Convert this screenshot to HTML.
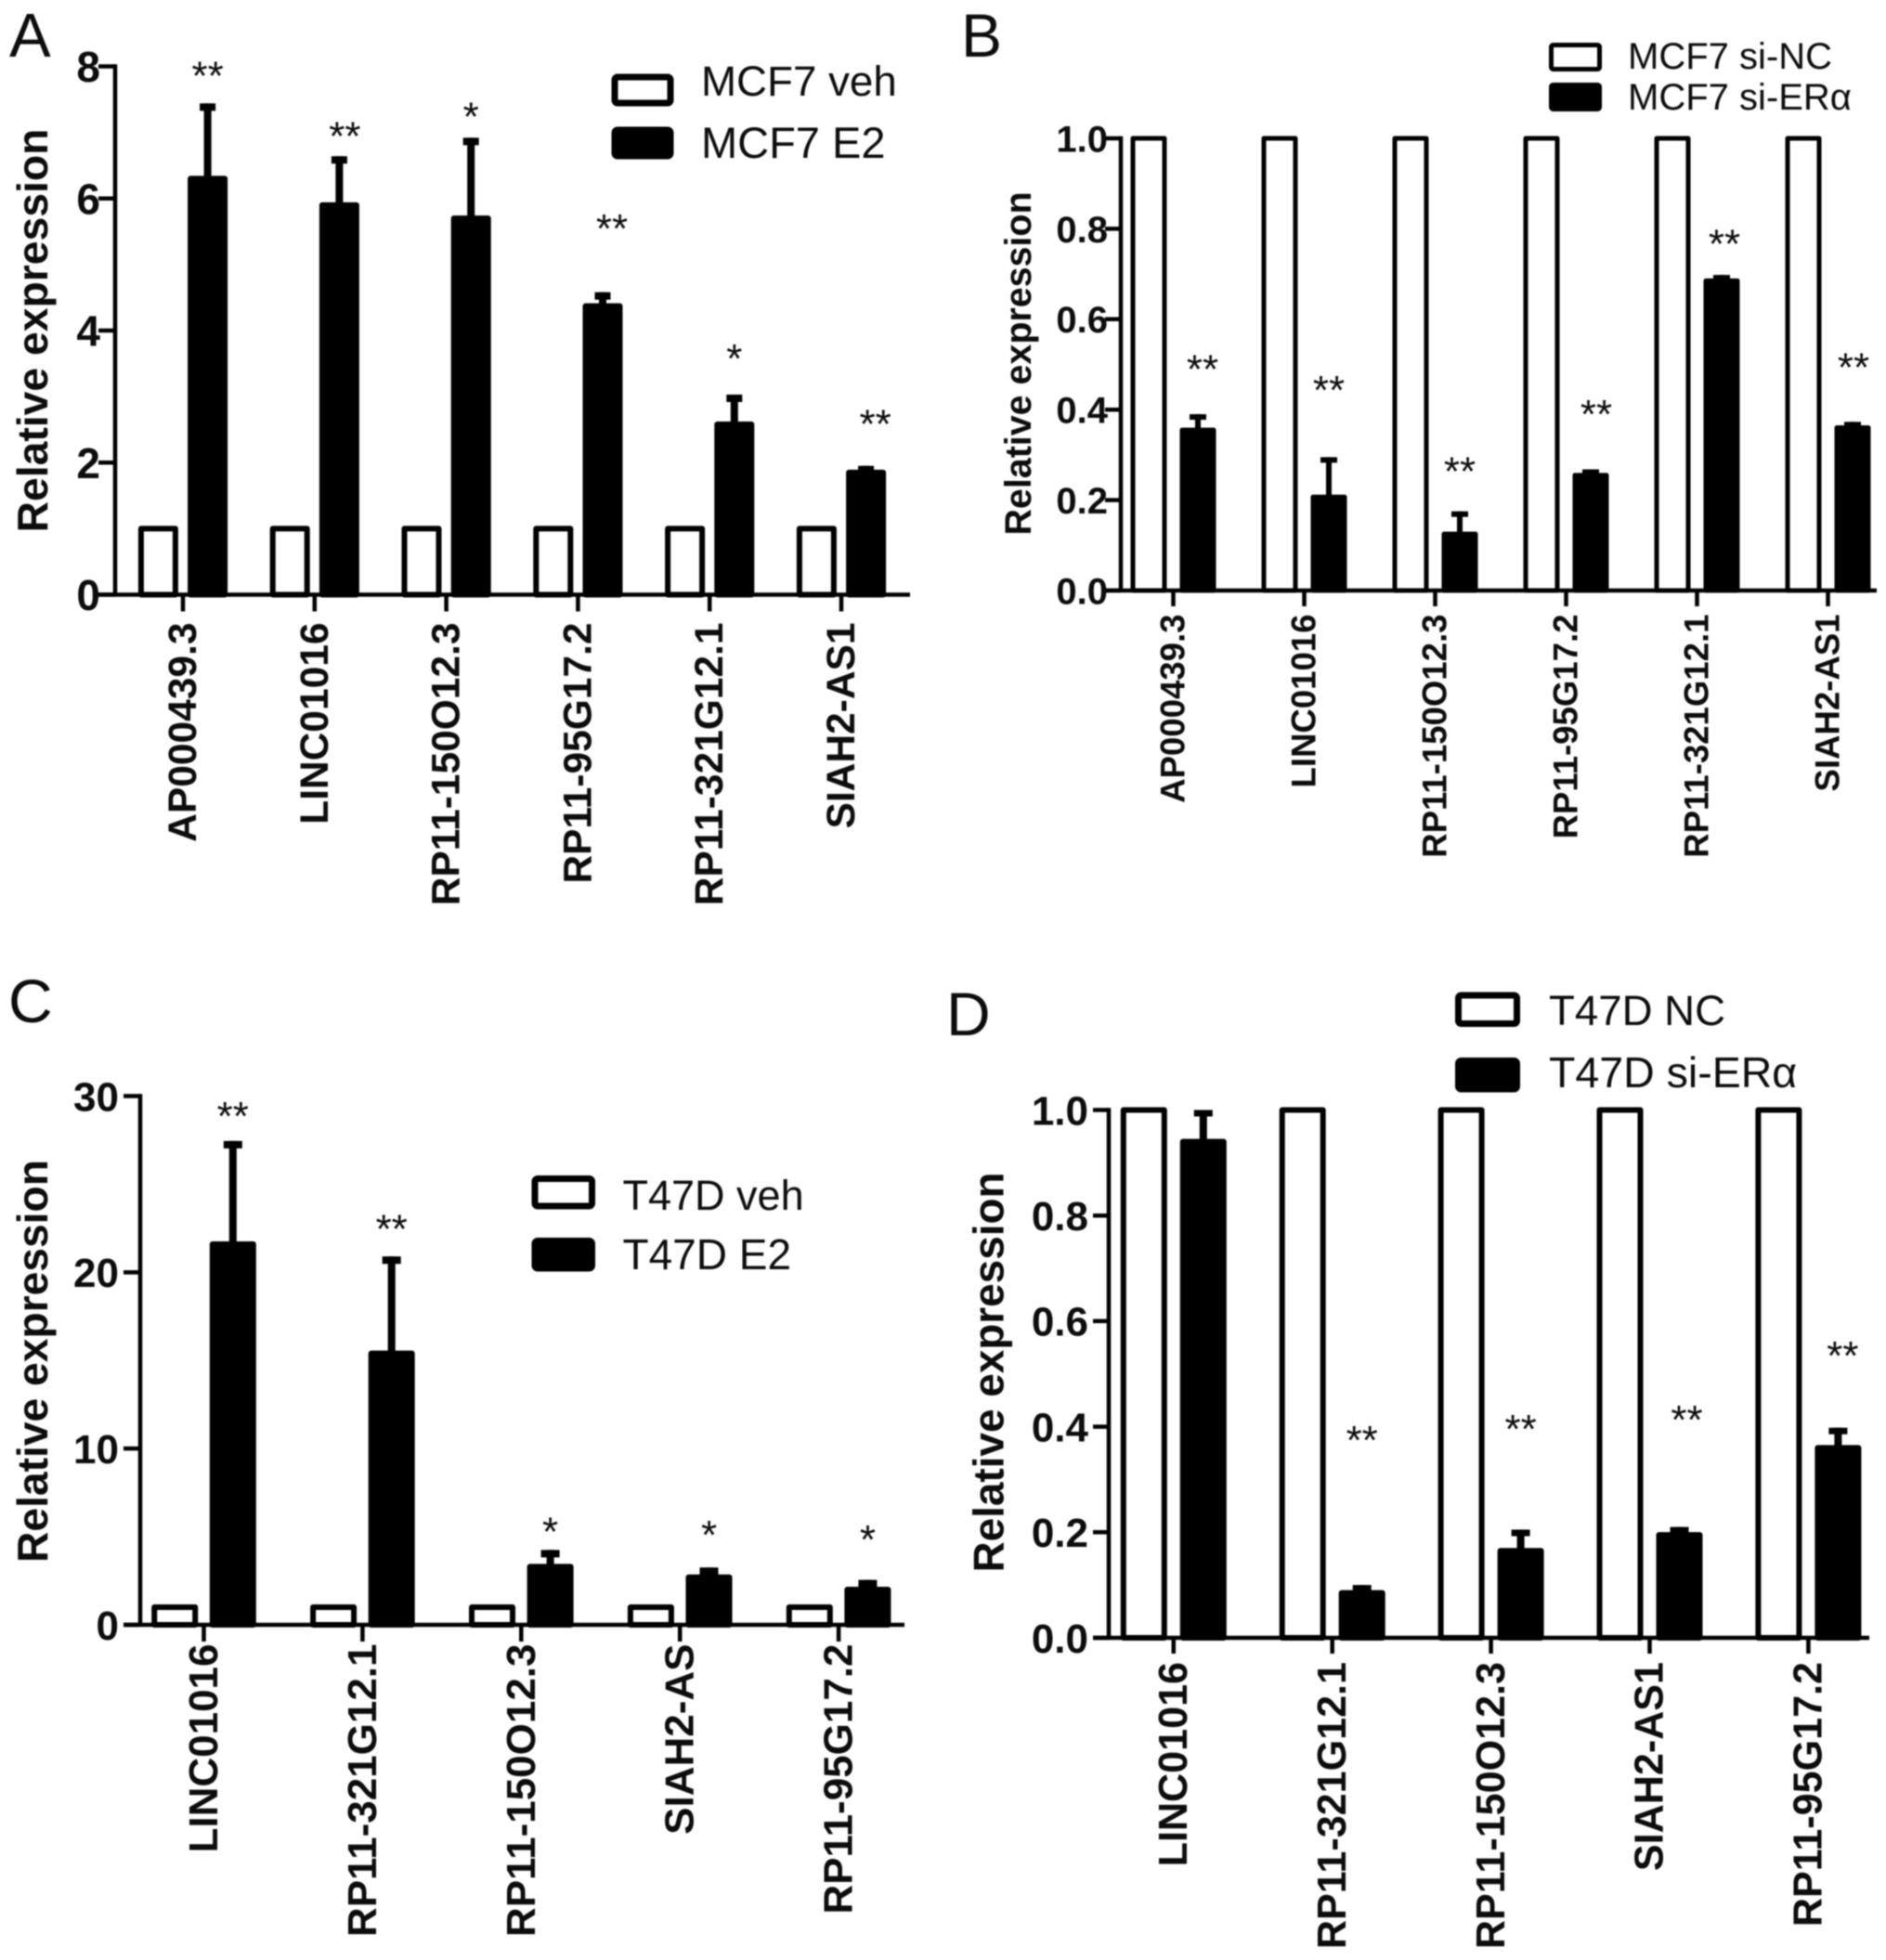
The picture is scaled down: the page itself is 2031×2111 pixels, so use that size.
<!DOCTYPE html>
<html lang="en">
<head>
<meta charset="utf-8">
<title>Relative expression panels</title>
<style>
html,body{margin:0;padding:0;background:#fff;}
svg{display:block;filter:blur(0.7px);}
text{font-family:"Liberation Sans",Arial,sans-serif;fill:#0c0c0c;}
</style>
</head>
<body>
<svg id="figure" width="2031" height="2111" viewBox="0 0 2031 2111" xmlns="http://www.w3.org/2000/svg">
  <rect x="0" y="0" width="2031" height="2111" fill="#fff"/>

  <text x="10" y="61" font-size="67">A</text>
  <text x="1035" y="61" font-size="66">B</text>
  <text x="9" y="1101" font-size="66">C</text>
  <text x="1019" y="1115" font-size="66">D</text>

  <g>
    <rect x="662" y="83" width="60" height="28" rx="3" fill="#fff" stroke="#000" stroke-width="7"/>
    <text x="755" y="103" font-size="45.7">MCF7 veh</text>
    <rect x="662" y="140" width="60" height="28" rx="3" fill="#000" stroke="#000" stroke-width="7"/>
    <text x="755" y="170" font-size="47">MCF7 E2</text>
  </g>
  <g>
    <rect x="1670.5" y="48.5" width="52" height="26" rx="2" fill="#fff" stroke="#000" stroke-width="5"/>
    <text x="1753" y="74" font-size="40">MCF7 si-NC</text>
    <rect x="1670.5" y="91.5" width="52" height="26" rx="2" fill="#000" stroke="#000" stroke-width="5"/>
    <text x="1753" y="118" font-size="40">MCF7 si-ERα</text>
  </g>
  <g>
    <rect x="576" y="1269.5" width="61.5" height="29.5" rx="3" fill="#fff" stroke="#000" stroke-width="7"/>
    <text x="670.5" y="1303" font-size="45">T47D veh</text>
    <rect x="576" y="1336.5" width="61.5" height="29.5" rx="3" fill="#000" stroke="#000" stroke-width="7"/>
    <text x="670.5" y="1367" font-size="46">T47D E2</text>
  </g>
  <g>
    <rect x="1570.5" y="1072" width="63" height="30.5" rx="3" fill="#fff" stroke="#000" stroke-width="7"/>
    <text x="1668" y="1104" font-size="45.6">T47D NC</text>
    <rect x="1570.5" y="1142.5" width="63" height="30.5" rx="3" fill="#000" stroke="#000" stroke-width="7"/>
    <text x="1668" y="1171" font-size="46.5">T47D si-ERα</text>
  </g>
</svg>

<script>
/* Panel A data */
const aCategories = ["AP000439.3","LINC01016","RP11-150O12.3","RP11-95G17.2","RP11-321G12.1","SIAH2-AS1"];
const aControl = [1,1,1,1,1,1];
const aTreated = [6.3,5.9,5.7,4.37,2.58,1.85];
const aErrorTop = [7.44,6.64,6.92,4.58,3.03,1.95];
const aStars = ["**","**","*","**","*","**"];
const aStarLevel = [7.95,7.04,7.33,5.64,3.67,2.68];
const aTickLabels = ["0","2","4","6","8"];

/* Panel B data */
const bCategories = ["AP000439.3","LINC01016","RP11-150O12.3","RP11-95G17.2","RP11-321G12.1","SIAH2-AS1"];
const bControl = [1,1,1,1,1,1];
const bTreated = [0.355,0.207,0.125,0.255,0.685,0.36];
const bErrorTop = [0.39,0.295,0.175,0.268,0.698,0.373];
const bStars = ["**","**","**","**","**","**"];
const bStarLevel = [0.503,0.457,0.277,0.404,0.78,0.507];
const bTickLabels = ["0.0","0.2","0.4","0.6","0.8","1.0"];

/* Panel C data */
const cCategories = ["LINC01016","RP11-321G12.1","RP11-150O12.3","SIAH2-AS","RP11-95G17.2"];
const cControl = [1,1,1,1,1];
const cTreated = [21.6,15.4,3.3,2.7,2.0];
const cErrorTop = [27.45,20.9,4.25,3.25,2.55];
const cStars = ["**","**","*","*","*"];
const cStarLevel = [29.2,22.8,5.63,5.45,5.2];
const cTickLabels = ["0","10","20","30"];

/* Panel D data */
const dCategories = ["LINC01016","RP11-321G12.1","RP11-150O12.3","SIAH2-AS1","RP11-95G17.2"];
const dControl = [1,1,1,1,1];
const dTreated = [0.94,0.085,0.165,0.195,0.36];
const dErrorTop = [1.0,0.1,0.205,0.21,0.398];
const dStars = ["","**","**","**","**"];
const dStarLevel = [0,0.386,0.407,0.425,0.546];
const dTickLabels = ["0.0","0.2","0.4","0.6","0.8","1.0"];

const SVG_NS = "http://www.w3.org/2000/svg";
const figure = document.getElementById("figure");

function mk(parent, tag, attrs, content) {
  const el = document.createElementNS(SVG_NS, tag);
  for (const key in attrs) el.setAttribute(key, attrs[key]);
  if (content !== undefined) el.textContent = content;
  parent.appendChild(el);
  return el;
}

function drawPanel(p) {
  const yScale = function (v) { return p.y0 - (v / p.maxValue) * (p.y0 - p.yTop); };
  const groupX = function (i) { return p.firstGroup + i * p.groupStep; };

  const group = mk(figure, "g", {});
  
  

  const yTitle = mk(group, "text", {
    transform: "translate(" + p.titleX + "," + p.titleY + ") rotate(-90)",
    "text-anchor": "middle", "font-weight": "bold", "font-size": p.titleSize
  }, "Relative expression");
  
  

  p.categories.forEach(function (name, i) {
    const ctrlX = groupX(i) - p.barOffset;
    const ctrlTop = yScale(p.control[i]);
    const ctrl = mk(group, "rect", {
      x: ctrlX - p.barWidth / 2, y: ctrlTop, width: p.barWidth, height: p.y0 - ctrlTop,
      fill: "#fff", stroke: "#000", "stroke-width": p.stroke, "stroke-linejoin": "round"
    });
    
    

    const trtX = groupX(i) + p.barOffset;
    const trtTop = yScale(p.treated[i]);
    const errTop = yScale(p.errorTop[i]);

    const stem = mk(group, "line", {
      x1: trtX, x2: trtX, y1: trtTop, y2: errTop,
      stroke: "#000", "stroke-width": p.stemWidth
    });
    
    

    const cap = mk(group, "line", {
      x1: trtX - p.capWidth / 2, x2: trtX + p.capWidth / 2, y1: errTop + p.capHeight / 2, y2: errTop + p.capHeight / 2,
      stroke: "#000", "stroke-width": p.capHeight
    });
    
    

    const trt = mk(group, "rect", {
      x: trtX - p.barWidth / 2, y: trtTop, width: p.barWidth, height: p.y0 - trtTop,
      fill: "#000", stroke: "#000", "stroke-width": p.stroke, "stroke-linejoin": "round"
    });
    
    

    if (p.stars[i]) {
      const star = mk(group, "text", {
        x: trtX + (p.starNudge[i] || 0),
        y: yScale(p.starLevel[i]) + 0.49 * p.starSize,
        "text-anchor": "middle", "font-size": p.starSize
      }, p.stars[i]);
      
      
    }

    const tick = mk(group, "line", {
      x1: groupX(i), x2: groupX(i), y1: p.y0, y2: p.y0 + p.tickLength,
      stroke: "#000", "stroke-width": p.axisWidth
    });
    
    

    const label = mk(group, "text", {
      transform: "translate(" + (groupX(i) + 0.33 * p.xLabelSize) + "," + p.xLabelTop + ") rotate(-90)",
      "text-anchor": "end", "font-weight": "bold", "font-size": p.xLabelSize
    }, name);
    
    
  });

  const yAxis = mk(group, "line", {
    x1: p.axisX, x2: p.axisX, y1: p.yTop - p.axisWidth / 2, y2: p.y0,
    stroke: "#000", "stroke-width": p.axisWidth
  });
  
  

  const xAxis = mk(group, "line", {
    x1: p.axisX - p.tickLength, x2: p.axisEnd, y1: p.y0, y2: p.y0,
    stroke: "#000", "stroke-width": p.axisWidth
  });
  
  

  p.tickLabels.forEach(function (txt, i) {
    const v = parseFloat(txt);
    const yy = yScale(v);
    const tick = mk(group, "line", {
      x1: p.axisX - p.tickLength, x2: p.axisX, y1: yy, y2: yy,
      stroke: "#000", "stroke-width": p.axisWidth
    });
    
    

    const label = mk(group, "text", {
      x: p.yLabelRight, y: yy + 0.36 * p.yLabelSize,
      "text-anchor": "end", "font-weight": "bold", "font-size": p.yLabelSize
    }, txt);
    
    
  });
}

drawPanel({
  id: "a", categories: aCategories, control: aControl, treated: aTreated, errorTop: aErrorTop,
  stars: aStars, starLevel: aStarLevel, tickLabels: aTickLabels, maxValue: 8,
  axisX: 124, axisEnd: 980, y0: 640.5, yTop: 71.5, firstGroup: 197, groupStep: 141.8, barOffset: 26.6,
  barWidth: 37, stroke: 6, axisWidth: 4.5, tickLength: 18, stemWidth: 8, capWidth: 17, capHeight: 8,
  starSize: 44, starNudge: {1: 6, 3: 10, 5: 10}, xLabelSize: 42.5, xLabelTop: 670.5, yLabelSize: 46, yLabelRight: 108,
  titleSize: 46.3, titleX: 51, titleY: 356
});
drawPanel({
  id: "b", categories: bCategories, control: bControl, treated: bTreated, errorTop: bErrorTop,
  stars: bStars, starLevel: bStarLevel, tickLabels: bTickLabels, maxValue: 1,
  axisX: 1207, axisEnd: 2021, y0: 636, yTop: 149, firstGroup: 1263.5, groupStep: 141, barOffset: 26.5,
  barWidth: 34, stroke: 5, axisWidth: 4.5, tickLength: 17, stemWidth: 6, capWidth: 18, capHeight: 6,
  starSize: 44, starNudge: {0: 5, 3: 6, 4: 3, 5: 1}, xLabelSize: 36.6, xLabelTop: 661.5, yLabelSize: 40, yLabelRight: 1193,
  titleSize: 39.4, titleX: 1110, titleY: 391.5
});
drawPanel({
  id: "c", categories: cCategories, control: cControl, treated: cTreated, errorTop: cErrorTop,
  stars: cStars, starLevel: cStarLevel, tickLabels: cTickLabels, maxValue: 30,
  axisX: 151, axisEnd: 974, y0: 1750, yTop: 1180.5, firstGroup: 219.5, groupStep: 170.9, barOffset: 31.3,
  barWidth: 44, stroke: 6, axisWidth: 4.5, tickLength: 18, stemWidth: 8, capWidth: 20, capHeight: 8,
  starSize: 44, starNudge: {}, xLabelSize: 44, xLabelTop: 1770.5, yLabelSize: 44, yLabelRight: 128,
  titleSize: 46.2, titleX: 51, titleY: 1466
});
drawPanel({
  id: "d", categories: dCategories, control: dControl, treated: dTreated, errorTop: dErrorTop,
  stars: dStars, starLevel: dStarLevel, tickLabels: dTickLabels, maxValue: 1,
  axisX: 1194, axisEnd: 2013, y0: 1764, yTop: 1195.5, firstGroup: 1263.8, groupStep: 170.9, barOffset: 32,
  barWidth: 44, stroke: 6, axisWidth: 4.5, tickLength: 17, stemWidth: 8, capWidth: 20, capHeight: 7,
  starSize: 44, starNudge: {3: 8, 4: 5}, xLabelSize: 43.1, xLabelTop: 1790, yLabelSize: 44, yLabelRight: 1172,
  titleSize: 45.9, titleX: 1080.5, titleY: 1478
});
</script>
</body>
</html>
